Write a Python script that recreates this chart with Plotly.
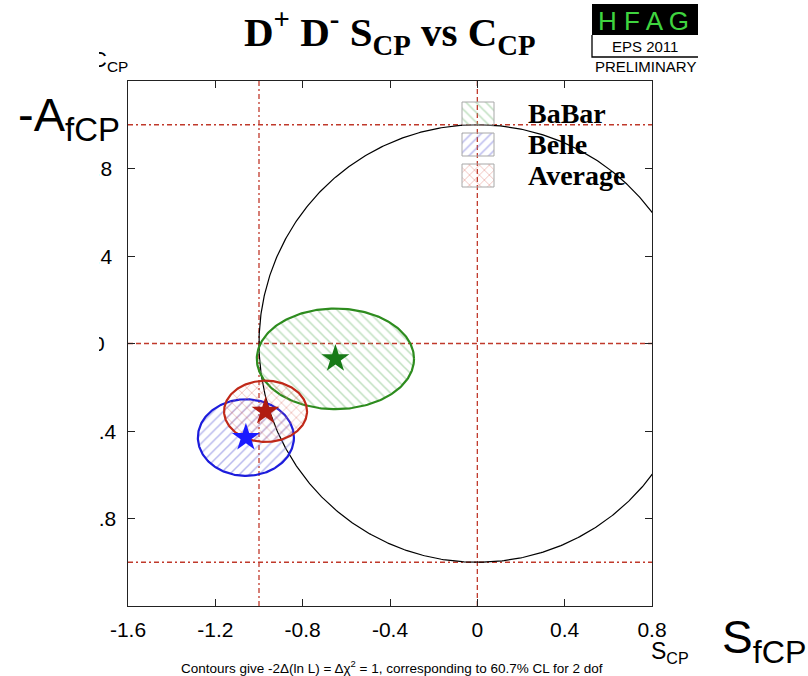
import numpy as np
import plotly.graph_objects as go

# ---- measurements: S_CP and C_CP (= -A_CP) with 1-sigma errors ----
EXPERIMENTS = ["BaBar", "Belle", "Average"]
S_VALUES = [-0.65, -1.06, -0.97]
C_VALUES = [-0.07, -0.43, -0.31]
S_ERRORS = [0.36, 0.22, 0.19]
C_ERRORS = [0.23, 0.175, 0.14]

# ---- axes ----
X_RANGE = [-1.6, 0.8]
Y_RANGE = [-1.2, 1.2]
X_TICKS = [-1.6, -1.2, -0.8, -0.4, 0, 0.4, 0.8]
X_TICK_LABELS = ["-1.6", "-1.2", "-0.8", "-0.4", "0", "0.4", "0.8"]
Y_TICKS = [0.8, 0.4, 0, -0.4, -0.8]
Y_TICK_LABELS = ["0.8", "0.4", "0", "-0.4", "-0.8"]

# ---- reference lines ----
REF_S_DASHDOT = [-1.0]
REF_S_DASH = [0.0]
REF_C_DASHDOT = [-1.0, 1.0]
REF_C_DASH = [0.0]

# ---- styles ----
LINE_COLORS = ["#2d8c1e", "#1c1cdc", "#c02818"]
HATCH_COLORS = ["#7fc07f", "#7474dc", "#dc7468"]
HATCH_SHAPES = ["\\", "/", "x"]
STAR_COLORS = ["#167a16", "#1a1aff", "#b01c10"]
REF_COLOR = "#c0392b"

W, H = 808, 676
ML, MR, MT, MB = 128, 156, 81, 70
PW, PH = W - ML - MR, H - MT - MB

SANS = "Liberation Sans, Arial, Helvetica, sans-serif"
SERIF = "Liberation Serif, Times New Roman, serif"


def paper_x(px):
    return (px - ML) / PW


def paper_y(py):
    return (H - MB - py) / PH


def data_x(px):
    return X_RANGE[0] + (px - ML) / PW * (X_RANGE[1] - X_RANGE[0])


def data_y(py):
    return Y_RANGE[1] - (py - MT) / PH * (Y_RANGE[1] - Y_RANGE[0])


fig = go.Figure()

# physical boundary S^2 + C^2 = 1
phi = np.linspace(0, 2 * np.pi, 721)
fig.add_trace(go.Scatter(x=np.cos(phi), y=np.sin(phi), mode="lines",
                         line=dict(color="black", width=1.2),
                         hoverinfo="skip", showlegend=False))

# 1-sigma contours
t = np.linspace(0, 2 * np.pi, 241)
for i, name in enumerate(EXPERIMENTS):
    fig.add_trace(go.Scatter(
        x=S_VALUES[i] + S_ERRORS[i] * np.cos(t),
        y=C_VALUES[i] + C_ERRORS[i] * np.sin(t),
        mode="lines", fill="toself", name=name,
        fillcolor="rgba(0,0,0,0)",
        fillpattern=dict(shape=HATCH_SHAPES[i], fgcolor=HATCH_COLORS[i],
                         bgcolor="rgba(0,0,0,0)", size=7, solidity=0.22),
        line=dict(color=LINE_COLORS[i], width=2.2),
        hoverinfo="skip", showlegend=False))

# central values
for i, name in enumerate(EXPERIMENTS):
    fig.add_trace(go.Scatter(
        x=[S_VALUES[i]], y=[C_VALUES[i]], mode="markers", name=name,
        marker=dict(symbol="star", size=21, color=STAR_COLORS[i],
                    line=dict(width=0)),
        showlegend=False))

# legend swatches and labels
LEG_BOX_X = (data_x(462), data_x(494))
LEG_ROW_TOP = [102, 133, 164]
LEG_BOX_H = 23
for i, name in enumerate(EXPERIMENTS):
    y0 = data_y(LEG_ROW_TOP[i])
    y1 = data_y(LEG_ROW_TOP[i] + LEG_BOX_H)
    x0, x1 = LEG_BOX_X
    fig.add_trace(go.Scatter(
        x=[x0, x1, x1, x0, x0], y=[y0, y0, y1, y1, y0],
        mode="lines", fill="toself", fillcolor="rgba(0,0,0,0)",
        fillpattern=dict(shape=HATCH_SHAPES[i], fgcolor=HATCH_COLORS[i],
                         bgcolor="rgba(0,0,0,0)", size=7, solidity=0.22),
        line=dict(color="#a8a8a8", width=1),
        hoverinfo="skip", showlegend=False, cliponaxis=False))

shapes = []
for s in REF_S_DASHDOT:
    shapes.append(dict(type="line", xref="x", yref="paper", x0=s, x1=s, y0=0, y1=1,
                       line=dict(color=REF_COLOR, width=1.3, dash="5px,3px,2px,3px"),
                       layer="below"))
for s in REF_S_DASH:
    shapes.append(dict(type="line", xref="x", yref="paper", x0=s, x1=s, y0=0, y1=1,
                       line=dict(color=REF_COLOR, width=1.3, dash="5px,3px"),
                       layer="below"))
for c in REF_C_DASHDOT:
    shapes.append(dict(type="line", xref="paper", yref="y", x0=0, x1=1, y0=c, y1=c,
                       line=dict(color=REF_COLOR, width=1.3, dash="5px,3px,2px,3px"),
                       layer="below"))
for c in REF_C_DASH:
    shapes.append(dict(type="line", xref="paper", yref="y", x0=0, x1=1, y0=c, y1=c,
                       line=dict(color=REF_COLOR, width=1.3, dash="5px,3px"),
                       layer="below"))

# HFAG badge
shapes.append(dict(type="rect", xref="paper", yref="paper",
                   x0=paper_x(592), x1=paper_x(698), y0=paper_y(35), y1=paper_y(4),
                   fillcolor="black", line=dict(width=0)))
shapes.append(dict(type="path", xref="paper", yref="paper",
                   path="M %f,%f L %f,%f L %f,%f" % (
                       paper_x(592), paper_y(35), paper_x(592), paper_y(57),
                       paper_x(698), paper_y(57)),
                   line=dict(color="black", width=1.3)))

annotations = []
# y tick labels, centred left of the frame
Y_LABEL_CENTRES = [97.7, 97.7, 98.8, 98.0, 98.0]
for v, lab, cx in zip(Y_TICKS, Y_TICK_LABELS, Y_LABEL_CENTRES):
    annotations.append(dict(x=paper_x(cx), xref="paper", y=v, yref="y", text=lab,
                            showarrow=False, xanchor="center", yanchor="middle",
                            font=dict(family=SANS, size=21, color="black")))
annotations.append(dict(x=paper_x(130), xref="paper", y=paper_y(61), yref="paper",
                        text="C<sub>CP</sub>", showarrow=False, xanchor="right",
                        yanchor="middle", font=dict(family=SANS, size=22, color="black")))
# left strip of the page is blank
annotations.append(dict(x=paper_x(0), xref="paper", y=paper_y(40), yref="paper",
                        text=" ", showarrow=False, xanchor="left", yanchor="top",
                        width=99, height=560, bgcolor="white", borderpad=0,
                        borderwidth=0))
annotations.append(dict(x=paper_x(16), xref="paper", y=paper_y(118), yref="paper",
                        text="-A<sub>fCP</sub>", showarrow=False, xanchor="left",
                        yanchor="middle", font=dict(family=SANS, size=47, color="black")))
annotations.append(dict(x=paper_x(649), xref="paper", y=paper_y(652), yref="paper",
                        text="S<sub>CP</sub>", showarrow=False, xanchor="left",
                        yanchor="middle", font=dict(family=SANS, size=23, color="black")))
annotations.append(dict(x=paper_x(720), xref="paper", y=paper_y(640), yref="paper",
                        text="S<sub>fCP</sub>", showarrow=False, xanchor="left",
                        yanchor="middle", font=dict(family=SANS, size=46, color="black")))
annotations.append(dict(x=paper_x(392), xref="paper", y=paper_y(667), yref="paper",
                        text="Contours give -2\u0394(ln L) = \u0394\u03c7<sup>2</sup> = 1, "
                             "corresponding to 60.7% CL for 2 dof",
                        showarrow=False, xanchor="center", yanchor="middle",
                        font=dict(family=SANS, size=13.5, color="black")))
# title
annotations.append(dict(x=paper_x(390), xref="paper", y=paper_y(32), yref="paper",
                        text="<b>D<sup>+</sup> D<sup>-</sup> S<sub>CP</sub> vs C<sub>CP</sub></b>",
                        showarrow=False, xanchor="center", yanchor="middle",
                        font=dict(family=SERIF, size=41, color="black")))
# badge text
annotations.append(dict(x=paper_x(643), xref="paper", y=paper_y(21), yref="paper",
                        text="H F A G", showarrow=False, xanchor="center", yanchor="middle",
                        font=dict(family=SANS, size=26, color="#3fd43f")))
annotations.append(dict(x=paper_x(645), xref="paper", y=paper_y(47), yref="paper",
                        text="EPS 2011", showarrow=False, xanchor="center", yanchor="middle",
                        font=dict(family=SANS, size=15, color="black")))
annotations.append(dict(x=paper_x(645), xref="paper", y=paper_y(66), yref="paper",
                        text="PRELIMINARY", showarrow=False, xanchor="center",
                        yanchor="middle", font=dict(family=SANS, size=15, color="black")))
# legend labels
for i, name in enumerate(EXPERIMENTS):
    annotations.append(dict(x=data_x(526), xref="x",
                            y=data_y(LEG_ROW_TOP[i] + LEG_BOX_H / 2), yref="y",
                            text="<b>%s</b>" % name, showarrow=False,
                            xanchor="left", yanchor="middle",
                            font=dict(family=SERIF, size=28, color="black")))

axis_common = dict(showline=True, linecolor="#222", linewidth=1.2, mirror="ticks",
                   ticks="inside", ticklen=7, tickwidth=1.2, tickcolor="#222",
                   showgrid=False, zeroline=False)

fig.update_layout(
    width=W, height=H, autosize=False,
    margin=dict(l=ML, r=MR, t=MT, b=MB, pad=0),
    paper_bgcolor="white", plot_bgcolor="white",
    showlegend=False,
    xaxis=dict(range=X_RANGE, tickvals=X_TICKS, ticktext=X_TICK_LABELS,
               tickfont=dict(family=SANS, size=21, color="black"),
               ticklabelstandoff=5, **axis_common),
    yaxis=dict(range=Y_RANGE, tickvals=Y_TICKS, showticklabels=False, **axis_common),
    shapes=shapes,
    annotations=annotations,
)

fig.write_html("out.html")
